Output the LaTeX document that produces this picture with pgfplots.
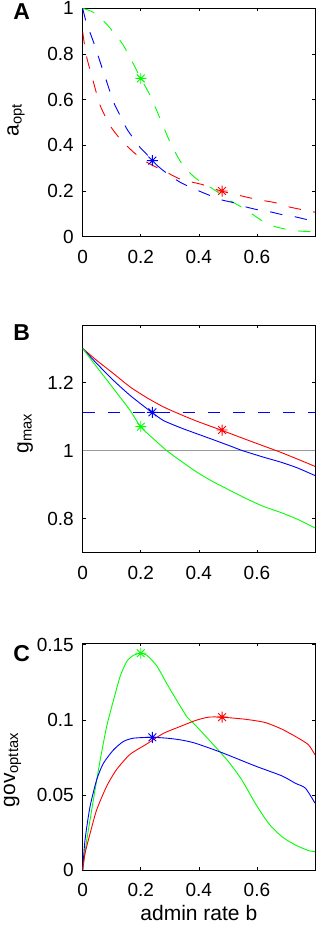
\documentclass[border=0pt]{standalone}
\usepackage{fontspec}
\setmainfont{Liberation Sans}
\usepackage{pgfplots}
\pgfplotsset{compat=1.18}
\definecolor{mg}{rgb}{0,1,0}
\definecolor{mb}{rgb}{0,0,1}
\definecolor{mr}{rgb}{1,0,0}
\definecolor{mgray}{rgb}{0.6,0.6,0.6}
\pgfdeclareplotmark{mstar}{%
  \pgfpathmoveto{\pgfqpoint{-\pgfplotmarksize}{0pt}}\pgfpathlineto{\pgfqpoint{\pgfplotmarksize}{0pt}}%
  \pgfpathmoveto{\pgfqpoint{0pt}{-\pgfplotmarksize}}\pgfpathlineto{\pgfqpoint{0pt}{\pgfplotmarksize}}%
  \pgfpathmoveto{\pgfqpoint{-0.707\pgfplotmarksize}{-0.707\pgfplotmarksize}}\pgfpathlineto{\pgfqpoint{0.707\pgfplotmarksize}{0.707\pgfplotmarksize}}%
  \pgfpathmoveto{\pgfqpoint{-0.707\pgfplotmarksize}{0.707\pgfplotmarksize}}\pgfpathlineto{\pgfqpoint{0.707\pgfplotmarksize}{-0.707\pgfplotmarksize}}%
  \pgfusepathqstroke}
\pgfplotsset{
  panel/.style={
    scale only axis, width=232.3pt, xmin=0, xmax=0.8,
    xtick={0,0.2,0.4,0.6}, xticklabels={0,0.2,0.4,0.6},
    tick align=inside, major tick length=3pt,
    axis line style={line width=0.9pt},
    every tick/.style={black, line width=0.7pt},
    ticklabel style={font=\fontsize{19}{22}\selectfont},
    xticklabel style={inner sep=0pt, anchor=north, yshift=-13pt},
    yticklabel style={inner sep=0pt, anchor=east, xshift=-8.7pt},
    label style={font=\fontsize{21}{24}\selectfont},
  },
  dline/.style={line width=0.9pt, dash pattern=on 12.5pt off 12.5pt},
  sline/.style={line width=0.9pt},
  cline/.style={line width=0.9pt, smooth, tension=0.4},
  smark/.style={only marks, mark=mstar, mark size=5.5pt, line width=0.9pt, mark options={solid}},
}
\begin{document}
\begin{tikzpicture}
\path[use as bounding box] (0,0) rectangle (316pt,926pt);
% ---------------- Panel A
\begin{axis}[panel, at={(82.7pt,689.3pt)}, anchor=south west, height=228.4pt,
  ymin=0, ymax=1, ytick={0,0.2,0.4,0.6,0.8,1}, yticklabels={0,0.2,0.4,0.6,0.8,1},
  ylabel={a\textsubscript{opt}},
  ylabel style={at={(axis description cs:-0.287,0.511)}, anchor=center}]
\addplot[dline, smooth, tension=0.4, mg] coordinates {(0,1) (0.037,0.982) (0.083,0.93) (0.12,0.872) (0.14,0.838) (0.175,0.755) (0.2,0.693) (0.232,0.619) (0.267,0.516) (0.301,0.413) (0.336,0.33) (0.36,0.292) (0.387,0.258) (0.415,0.234) (0.445,0.212) (0.479,0.183) (0.514,0.153) (0.548,0.129) (0.588,0.095) (0.623,0.066) (0.663,0.044) (0.703,0.032) (0.743,0.025) (0.8,0.021)};
\addplot[dline, smooth, tension=0.4, mb] coordinates {(0,1) (0.012,0.94) (0.037,0.853) (0.06,0.765) (0.083,0.677) (0.106,0.59) (0.129,0.53) (0.152,0.472) (0.175,0.43) (0.198,0.39) (0.221,0.36) (0.238,0.333) (0.278,0.289) (0.336,0.238) (0.399,0.201) (0.439,0.18) (0.479,0.161) (0.519,0.149) (0.56,0.131) (0.606,0.117) (0.652,0.107) (0.692,0.095) (0.732,0.087) (0.778,0.073) (0.8,0.068)};
\addplot[dline, smooth, tension=0.4, mr] coordinates {(0,0.897) (0.012,0.795) (0.037,0.677) (0.06,0.575) (0.094,0.487) (0.129,0.428) (0.175,0.37) (0.221,0.326) (0.278,0.289) (0.336,0.252) (0.39,0.235) (0.41,0.229) (0.477,0.2) (0.542,0.18) (0.583,0.168) (0.623,0.158) (0.663,0.149) (0.709,0.131) (0.749,0.12) (0.8,0.107)};
\addplot[smark, mg] coordinates {(0.2,0.693)};
\addplot[smark, mb] coordinates {(0.24,0.333)};
\addplot[smark, mr] coordinates {(0.48,0.2)};
\end{axis}
% ---------------- Panel B
\begin{axis}[panel, at={(82.7pt,373.3pt)}, anchor=south west, height=227.7pt,
  ymin=0.7, ymax=1.37, ytick={0.8,1,1.2}, yticklabels={0.8,1,1.2},
  ylabel={g\textsubscript{max}},
  ylabel style={at={(axis description cs:-0.248,0.523)}, anchor=center}]
\addplot[sline, mgray] coordinates {(0,1) (0.8,1)};
\addplot[dline, mb] coordinates {(0,1.113) (0.8,1.113)};
\addplot[cline, mr] coordinates {(0,1.301) (0.048,1.266) (0.106,1.227) (0.163,1.188) (0.221,1.156) (0.278,1.129) (0.336,1.107) (0.393,1.087) (0.479,1.06) (0.566,1.032) (0.623,1.014) (0.68,0.996) (0.738,0.976) (0.8,0.954)};
\addplot[cline, mb] coordinates {(0,1.301) (0.048,1.257) (0.106,1.207) (0.163,1.163) (0.221,1.124) (0.238,1.113) (0.278,1.089) (0.336,1.068) (0.393,1.05) (0.451,1.032) (0.508,1.014) (0.548,1.001) (0.623,0.981) (0.68,0.967) (0.738,0.95) (0.8,0.927)};
\addplot[cline, mg] coordinates {(0,1.301) (0.048,1.247) (0.106,1.183) (0.163,1.119) (0.2,1.07) (0.244,1.035) (0.29,1.0) (0.336,0.971) (0.393,0.937) (0.451,0.908) (0.508,0.883) (0.566,0.858) (0.623,0.836) (0.68,0.819) (0.738,0.799) (0.8,0.773)};
\addplot[smark, mg] coordinates {(0.2,1.071)};
\addplot[smark, mb] coordinates {(0.24,1.113)};
\addplot[smark, mr] coordinates {(0.48,1.061)};
\end{axis}
% ---------------- Panel C
\begin{axis}[panel, at={(82.7pt,56pt)}, anchor=south west, height=226.7pt,
  ymin=0, ymax=0.151, ytick={0,0.05,0.1,0.15}, yticklabels={0,0.05,0.1,0.15},
  ylabel={gov\textsubscript{opttax}},
  ylabel style={at={(axis description cs:-0.302,0.441)}, anchor=center},
  xlabel={admin rate b},
  xlabel style={at={(axis description cs:0.5,-0.2206)}, anchor=base}]
\addplot[cline, mg] coordinates {(0,0) (0.014,0.02) (0.037,0.047) (0.06,0.073) (0.083,0.096) (0.106,0.113) (0.129,0.129) (0.152,0.139) (0.175,0.143) (0.2,0.1444) (0.221,0.143) (0.255,0.136) (0.29,0.124) (0.324,0.113) (0.359,0.102) (0.387,0.0967) (0.456,0.0822) (0.502,0.0722) (0.548,0.06) (0.594,0.0445) (0.64,0.0311) (0.686,0.0222) (0.732,0.0167) (0.778,0.0129) (0.8,0.0122)};
\addplot[cline, mb] coordinates {(0,0) (0.008,0.02) (0.025,0.042) (0.048,0.06) (0.071,0.071) (0.106,0.08) (0.14,0.0856) (0.175,0.0878) (0.238,0.0884) (0.29,0.0878) (0.336,0.0867) (0.387,0.0845) (0.479,0.0782) (0.594,0.0693) (0.686,0.0627) (0.732,0.0578) (0.767,0.0545) (0.8,0.0445)};
\addplot[cline, mr] coordinates {(0,0) (0.008,0.011) (0.025,0.024) (0.048,0.04) (0.083,0.056) (0.117,0.067) (0.163,0.077) (0.221,0.084) (0.278,0.091) (0.336,0.0956) (0.387,0.0995) (0.433,0.1018) (0.479,0.1018) (0.56,0.1004) (0.629,0.0982) (0.686,0.0938) (0.743,0.0878) (0.778,0.0833) (0.8,0.0767)};
\addplot[smark, mg] coordinates {(0.2,0.1444)};
\addplot[smark, mb] coordinates {(0.24,0.0884)};
\addplot[smark, mr] coordinates {(0.48,0.1018)};
\end{axis}
\node[font=\fontsize{23}{26}\selectfont\bfseries, inner sep=0pt] at (21.7pt,914pt) {A};
\node[font=\fontsize{23}{26}\selectfont\bfseries, inner sep=0pt] at (21.7pt,593.5pt) {B};
\node[font=\fontsize{23}{26}\selectfont\bfseries, inner sep=0pt] at (21.7pt,272pt) {C};
\end{tikzpicture}
\end{document}
